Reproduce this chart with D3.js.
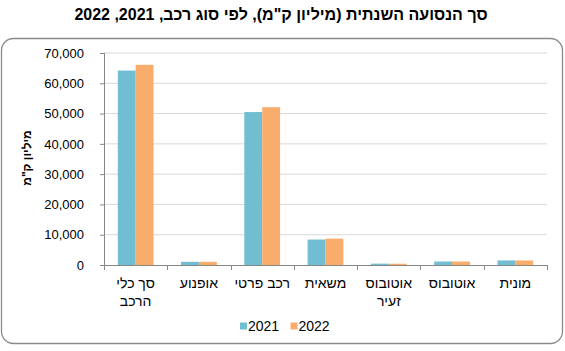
<!DOCTYPE html>
<html>
<head>
<meta charset="utf-8">
<script src="https://cdn.jsdelivr.net/npm/d3@7"></script>
<style>
  body { margin: 0; background: #fff; }
  svg { font-family: "Liberation Sans", Arial, sans-serif; }
</style>
</head>
<body>
<div id="chart"></div>
<script>
// data
var categories = ["סך כלי הרכב", "אופנוע", "רכב פרטי", "משאית", "אוטובוס זעיר", "אוטובוס", "מונית"];
var tickLabels = [["סך כלי", "הרכב"], ["אופנוע"], ["רכב פרטי"], ["משאית"], ["אוטובוס", "זעיר"], ["אוטובוס"], ["מונית"]];
var years = ["2021", "2022"];
var values2021 = [64200, 1050, 50500, 8400, 450, 1150, 1500];
var values2022 = [66100, 1050, 52100, 8700, 420, 1150, 1500];
var yTicks = [0, 10000, 20000, 30000, 40000, 50000, 60000, 70000];
var colors = ["#71bdd2", "#f9ad6c"];
var title = "סך הנסועה השנתית (מיליון ק\"מ), לפי סוג רכב, 2021, 2022";
var yTitle = "מיליון ק\"מ";

var W = 565, H = 351;
var margin = { top: 53, right: 18, bottom: 86, left: 104 };
var width = W - margin.left - margin.right;
var height = H - margin.top - margin.bottom;

var svg = d3.select("#chart").append("svg").attr("width", W).attr("height", H);

// outer frame
svg.append("rect").attr("x", 1.5).attr("y", 38.5).attr("width", 561).attr("height", 305)
    .attr("rx", 12).attr("ry", 12).style("fill", "none").style("stroke", "#8a8a8a").style("stroke-width", 1.3);

svg.append("text").attr("x", 281).attr("y", 20).attr("direction", "rtl").attr("text-anchor", "middle")
    .style("font-size", "16px").style("font-weight", "bold").text(title);

var g = svg.append("g").attr("transform", "translate(" + margin.left + "," + margin.top + ")");

var data = categories.map(function (c, i) {
    return { cat: c, vals: [values2021[i], values2022[i]] };
});

var x0 = d3.scaleBand().domain(categories).range([0, width]).padding(0);
var x1 = d3.scaleBand().domain(years).range([0, x0.bandwidth()]).paddingInner(0).paddingOuter(0.77);
var y = d3.scaleLinear().domain([0, 70000]).range([height, 0]);

// gridlines
g.selectAll(".grid").data(yTicks.slice(1)).enter().append("line")
    .attr("x1", 0).attr("x2", width)
    .attr("y1", function (d) { return y(d); }).attr("y2", function (d) { return y(d); })
    .style("stroke", "#d9d9d9").style("stroke-width", 1);

// bars
var groups = g.selectAll(".cat").data(data).enter().append("g")
    .attr("transform", function (d) { return "translate(" + x0(d.cat) + ",0)"; });
groups.selectAll("rect").data(function (d) {
    return d.vals.map(function (v, i) { return { year: years[i], v: v, i: i }; });
}).enter().append("rect")
    .attr("x", function (d) { return x1(d.year); })
    .attr("width", x1.bandwidth())
    .attr("y", function (d) { return y(d.v); })
    .attr("height", function (d) { return height - y(d.v); })
    .style("fill", function (d) { return colors[d.i]; });

// y axis
var yAxis = g.append("g").call(d3.axisLeft(y).tickValues(yTicks).tickSize(4).tickPadding(16).tickFormat(d3.format(",")));
yAxis.select(".domain").attr("d", "M0.5,0V" + height).style("stroke", "#868686");
yAxis.selectAll(".tick line").style("stroke", "#868686");
yAxis.selectAll(".tick text").style("font-size", "13px").style("fill", "#000").attr("font-family", null);

// x axis with ticks between categories
var xAxis = g.append("g").attr("transform", "translate(0," + height + ")");
xAxis.append("line").attr("x1", 0).attr("x2", width).attr("y1", 0.5).attr("y2", 0.5).style("stroke", "#868686");
xAxis.selectAll(".xt").data(d3.range(categories.length + 1)).enter().append("line")
    .attr("x1", function (i) { return Math.round(i * x0.step()) + 0.5; })
    .attr("x2", function (i) { return Math.round(i * x0.step()) + 0.5; })
    .attr("y1", 0).attr("y2", 5).style("stroke", "#868686");
var labels = xAxis.selectAll(".xl").data(categories).enter().append("text")
    .attr("direction", "rtl").attr("text-anchor", "middle")
    .attr("x", function (d) { return x0(d) + x0.bandwidth() / 2; })
    .attr("y", 23).style("font-size", "14px");
labels.each(function (d, i) {
    var t = d3.select(this);
    tickLabels[i].forEach(function (line, k) {
        t.append("tspan").attr("x", x0(d) + x0.bandwidth() / 2).attr("dy", k === 0 ? 0 : 17.5).text(line);
    });
});

// y title
svg.append("text").attr("transform", "translate(31,158) rotate(-90)").attr("direction", "rtl")
    .attr("text-anchor", "middle").style("font-size", "12px").style("font-weight", "bold").text(yTitle);

// legend
var legend = svg.append("g").attr("transform", "translate(240,326)");
var items = legend.selectAll(".lg").data(years).enter().append("g")
    .attr("transform", function (d, i) { return "translate(" + (i * 50.5) + ",0)"; });
items.append("rect").attr("x", 0).attr("y", -3.5).attr("width", 7).attr("height", 7)
    .style("fill", function (d, i) { return colors[i]; });
items.append("text").attr("x", 8).attr("y", 5).style("font-size", "14px").text(function (d) { return d; });
</script>
</body>
</html>
